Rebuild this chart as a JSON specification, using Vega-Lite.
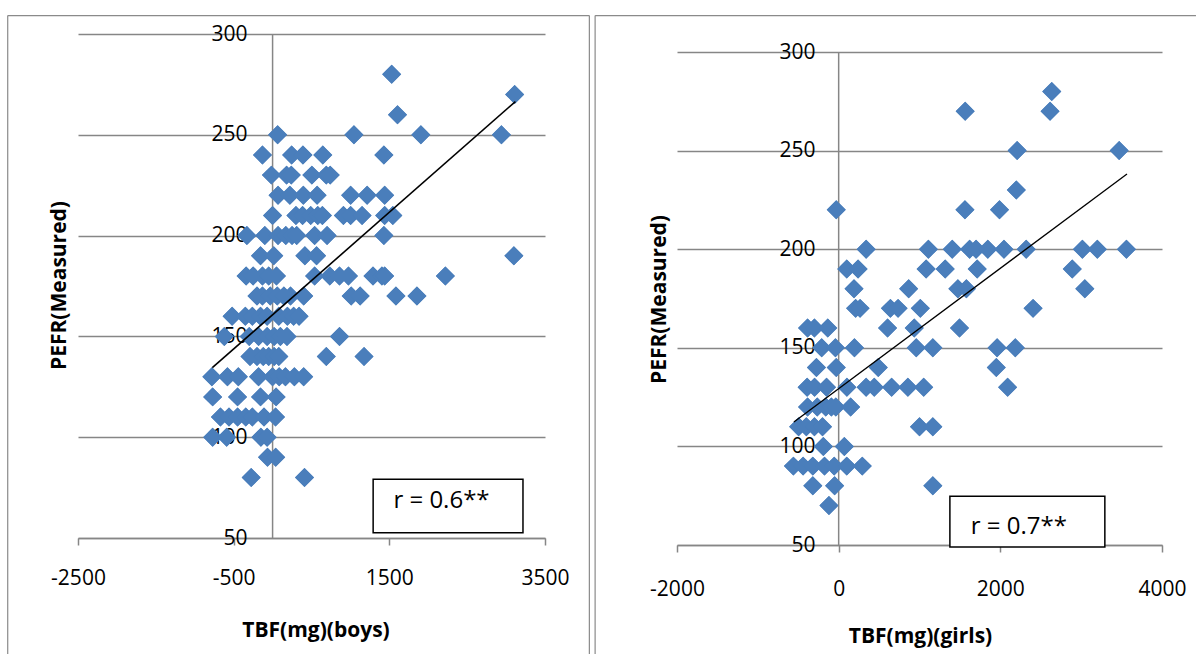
{
"$schema": "https://vega.github.io/schema/vega-lite/v6.json",
"background": "white",
"padding": {"left": 7, "top": 14, "right": 0, "bottom": 0},
"autosize": {"type": "pad"},
"bounds": "flush",
"spacing": 132,
"config": {"view": {"stroke": null}, "font": "Open Sans"},
"datasets": {
"boys": [
{"tbf":1530,"pefr":280},{"tbf":3110,"pefr":270},{"tbf":1605,"pefr":260},
{"tbf":65,"pefr":250},{"tbf":1045,"pefr":250},{"tbf":1905,"pefr":250},{"tbf":2940,"pefr":250},
{"tbf":-130,"pefr":240},{"tbf":245,"pefr":240},{"tbf":390,"pefr":240},{"tbf":645,"pefr":240},{"tbf":1430,"pefr":240},
{"tbf":-15,"pefr":230},{"tbf":180,"pefr":230},{"tbf":240,"pefr":230},{"tbf":505,"pefr":230},{"tbf":690,"pefr":230},{"tbf":740,"pefr":230},
{"tbf":70,"pefr":220},{"tbf":222,"pefr":220},{"tbf":395,"pefr":220},{"tbf":572,"pefr":220},{"tbf":1003,"pefr":220},{"tbf":1215,"pefr":220},{"tbf":1440,"pefr":220},
{"tbf":0,"pefr":210},{"tbf":300,"pefr":210},{"tbf":385,"pefr":210},{"tbf":490,"pefr":210},{"tbf":580,"pefr":210},{"tbf":640,"pefr":210},{"tbf":910,"pefr":210},{"tbf":1003,"pefr":210},{"tbf":1150,"pefr":210},{"tbf":1440,"pefr":210},{"tbf":1545,"pefr":210},
{"tbf":-330,"pefr":200},{"tbf":-100,"pefr":200},{"tbf":70,"pefr":200},{"tbf":170,"pefr":200},{"tbf":250,"pefr":200},{"tbf":310,"pefr":200},{"tbf":540,"pefr":200},{"tbf":700,"pefr":200},{"tbf":1430,"pefr":200},
{"tbf":-155,"pefr":190},{"tbf":15,"pefr":190},{"tbf":415,"pefr":190},{"tbf":565,"pefr":190},{"tbf":3100,"pefr":190},
{"tbf":-340,"pefr":180},{"tbf":-250,"pefr":180},{"tbf":-130,"pefr":180},{"tbf":-50,"pefr":180},{"tbf":50,"pefr":180},{"tbf":540,"pefr":180},{"tbf":735,"pefr":180},{"tbf":860,"pefr":180},{"tbf":975,"pefr":180},{"tbf":1290,"pefr":180},{"tbf":1405,"pefr":180},{"tbf":1440,"pefr":180},{"tbf":2220,"pefr":180},
{"tbf":-200,"pefr":170},{"tbf":-130,"pefr":170},{"tbf":-30,"pefr":170},{"tbf":60,"pefr":170},{"tbf":145,"pefr":170},{"tbf":230,"pefr":170},{"tbf":400,"pefr":170},{"tbf":1010,"pefr":170},{"tbf":1125,"pefr":170},{"tbf":1585,"pefr":170},{"tbf":1855,"pefr":170},
{"tbf":-520,"pefr":160},{"tbf":-350,"pefr":160},{"tbf":-260,"pefr":160},{"tbf":-155,"pefr":160},{"tbf":-70,"pefr":160},{"tbf":80,"pefr":160},{"tbf":190,"pefr":160},{"tbf":270,"pefr":160},{"tbf":340,"pefr":160},
{"tbf":-620,"pefr":150},{"tbf":-300,"pefr":150},{"tbf":-180,"pefr":150},{"tbf":-70,"pefr":150},{"tbf":20,"pefr":150},{"tbf":100,"pefr":150},{"tbf":185,"pefr":150},{"tbf":860,"pefr":150},
{"tbf":-290,"pefr":140},{"tbf":-200,"pefr":140},{"tbf":-120,"pefr":140},{"tbf":-50,"pefr":140},{"tbf":20,"pefr":140},{"tbf":80,"pefr":140},{"tbf":690,"pefr":140},{"tbf":1175,"pefr":140},
{"tbf":-780,"pefr":130},{"tbf":-580,"pefr":130},{"tbf":-440,"pefr":130},{"tbf":-180,"pefr":130},{"tbf":0,"pefr":130},{"tbf":85,"pefr":130},{"tbf":165,"pefr":130},{"tbf":280,"pefr":130},{"tbf":400,"pefr":130},
{"tbf":-770,"pefr":120},{"tbf":-450,"pefr":120},{"tbf":-155,"pefr":120},{"tbf":45,"pefr":120},
{"tbf":-670,"pefr":110},{"tbf":-560,"pefr":110},{"tbf":-450,"pefr":110},{"tbf":-345,"pefr":110},{"tbf":-260,"pefr":110},{"tbf":-110,"pefr":110},{"tbf":38,"pefr":110},
{"tbf":-770,"pefr":100},{"tbf":-590,"pefr":100},{"tbf":-150,"pefr":100},{"tbf":-70,"pefr":100},
{"tbf":-65,"pefr":90},{"tbf":40,"pefr":90},
{"tbf":-275,"pefr":80},{"tbf":410,"pefr":80}
],
"girls": [
{"tbf":2636,"pefr":280},
{"tbf":1565,"pefr":270},{"tbf":2615,"pefr":270},
{"tbf":2208,"pefr":250},{"tbf":3470,"pefr":250},
{"tbf":2198,"pefr":230},
{"tbf":-30,"pefr":220},{"tbf":1562,"pefr":220},{"tbf":1990,"pefr":220},
{"tbf":340,"pefr":200},{"tbf":1110,"pefr":200},{"tbf":1405,"pefr":200},{"tbf":1620,"pefr":200},{"tbf":1700,"pefr":200},{"tbf":1845,"pefr":200},{"tbf":2045,"pefr":200},{"tbf":2320,"pefr":200},{"tbf":3015,"pefr":200},{"tbf":3200,"pefr":200},{"tbf":3560,"pefr":200},
{"tbf":100,"pefr":190},{"tbf":240,"pefr":190},{"tbf":1082,"pefr":190},{"tbf":1318,"pefr":190},{"tbf":1714,"pefr":190},{"tbf":2890,"pefr":190},
{"tbf":190,"pefr":180},{"tbf":866,"pefr":180},{"tbf":1475,"pefr":180},{"tbf":1580,"pefr":180},{"tbf":3045,"pefr":180},
{"tbf":210,"pefr":170},{"tbf":265,"pefr":170},{"tbf":640,"pefr":170},{"tbf":735,"pefr":170},{"tbf":1010,"pefr":170},{"tbf":2405,"pefr":170},
{"tbf":-385,"pefr":160},{"tbf":-300,"pefr":160},{"tbf":-135,"pefr":160},{"tbf":605,"pefr":160},{"tbf":935,"pefr":160},{"tbf":1495,"pefr":160},
{"tbf":-210,"pefr":150},{"tbf":-40,"pefr":150},{"tbf":195,"pefr":150},{"tbf":960,"pefr":150},{"tbf":1165,"pefr":150},{"tbf":1960,"pefr":150},{"tbf":2185,"pefr":150},
{"tbf":-275,"pefr":140},{"tbf":-30,"pefr":140},{"tbf":490,"pefr":140},{"tbf":1950,"pefr":140},
{"tbf":-390,"pefr":130},{"tbf":-298,"pefr":130},{"tbf":-150,"pefr":130},{"tbf":102,"pefr":130},{"tbf":340,"pefr":130},{"tbf":440,"pefr":130},{"tbf":655,"pefr":130},{"tbf":856,"pefr":130},{"tbf":1052,"pefr":130},{"tbf":2090,"pefr":130},
{"tbf":-385,"pefr":120},{"tbf":-265,"pefr":120},{"tbf":-160,"pefr":120},{"tbf":-90,"pefr":120},{"tbf":-35,"pefr":120},{"tbf":148,"pefr":120},
{"tbf":-495,"pefr":110},{"tbf":-400,"pefr":110},{"tbf":-300,"pefr":110},{"tbf":-200,"pefr":110},{"tbf":1000,"pefr":110},{"tbf":1165,"pefr":110},
{"tbf":-190,"pefr":100},{"tbf":70,"pefr":100},
{"tbf":-560,"pefr":90},{"tbf":-440,"pefr":90},{"tbf":-320,"pefr":90},{"tbf":-175,"pefr":90},{"tbf":-55,"pefr":90},{"tbf":100,"pefr":90},{"tbf":292,"pefr":90},
{"tbf":-320,"pefr":80},{"tbf":-50,"pefr":80},{"tbf":1165,"pefr":80},
{"tbf":-120,"pefr":70}
],
"boysTrend": [{"tbf":-774,"pefr":134.5},{"tbf":3120,"pefr":266.5}],
"girlsTrend": [{"tbf":-554,"pefr":112.4},{"tbf":3567,"pefr":238.1}]
},
"hconcat": [
{
"width": 467, "height": 504,
"layer": [
{
"data": {"name": "boys"},
"mark": {"type": "point", "shape": "diamond", "filled": true, "size": 360, "color": "#4a7ebb", "opacity": 1},
"encoding": {
"x": {"field": "tbf", "type": "quantitative", "scale": {"domain": [-2500, 3500], "nice": false, "zero": false},
 "axis": {"title": "TBF(mg)(boys)", "values": [-2500, -500, 1500, 3500], "labelExpr": "datum.value + ''", "grid": false,
  "domainColor": "#868686", "domainWidth": 1.5, "tickColor": "#868686", "tickWidth": 1.5, "tickSize": 7,
  "labelPadding": 39.5, "labelBaseline": "alphabetic", "labelFlush": false, "labelOverlap": false, "labelFontSize": 21, "labelFont": "Open Sans", "labelColor": "black",
  "titleFont": "Open Sans", "titleFontSize": 21, "titleFontWeight": "bold", "titleColor": "black",
  "titleX": 237.5, "titleY": 98, "titleBaseline": "alphabetic", "titleAlign": "center"}},
"y": {"field": "pefr", "type": "quantitative", "scale": {"domain": [50, 300], "nice": false, "zero": false},
 "axis": {"title": "PEFR(Measured)", "values": [50, 100, 150, 200, 250, 300], "grid": true, "gridColor": "#868686", "gridWidth": 1.5,
  "domain": false, "ticks": false, "tickSize": 0, "labelAlign": "right", "labelBaseline": "middle", "labelPadding": -169, "labelOverlap": false,
  "labelFontSize": 21, "labelFont": "Open Sans", "labelColor": "black",
  "titleFont": "Open Sans", "titleFontSize": 21, "titleFontWeight": "bold", "titleColor": "black",
  "titleX": -12.3, "titleY": 251, "titleBaseline": "alphabetic", "titleAngle": -90, "titleAlign": "center"}}
}
},
{
"data": {"values": [{}]},
"mark": {"type": "rule", "color": "#8a8a8a", "strokeWidth": 1.2},
"encoding": {"x": {"datum": -3403, "type": "quantitative"}, "y": {"datum": -7.5, "type": "quantitative"}, "y2": {"datum": 309.13}}
},
{
"data": {"values": [{}]},
"mark": {"type": "rule", "color": "#8a8a8a", "strokeWidth": 1.2},
"encoding": {"x": {"datum": 4070, "type": "quantitative"}, "y": {"datum": -7.5, "type": "quantitative"}, "y2": {"datum": 309.13}}
},
{
"data": {"values": [{}]},
"mark": {"type": "rule", "color": "#8a8a8a", "strokeWidth": 1.2},
"encoding": {"y": {"datum": 309.13, "type": "quantitative"}, "x": {"datum": -3403, "type": "quantitative"}, "x2": {"datum": 4070}}
},
{
"data": {"values": [{}]},
"mark": {"type": "rule", "color": "#868686", "strokeWidth": 1.5},
"encoding": {"x": {"datum": 0, "type": "quantitative"}, "y": {"datum": 50, "type": "quantitative"}, "y2": {"datum": 300}}
},
{
"data": {"name": "boys"},
"mark": {"type": "point", "shape": "diamond", "filled": true, "size": 360, "color": "#4a7ebb", "opacity": 1},
"encoding": {"x": {"field": "tbf", "type": "quantitative"}, "y": {"field": "pefr", "type": "quantitative"}}
},
{
"data": {"name": "boysTrend"},
"mark": {"type": "line", "color": "black", "strokeWidth": 1.6},
"encoding": {"x": {"field": "tbf", "type": "quantitative"}, "y": {"field": "pefr", "type": "quantitative"}}
},
{
"data": {"values": [{}]},
"mark": {"type": "rect", "fill": "white", "stroke": "black", "strokeWidth": 1.5},
"encoding": {"x": {"datum": 1292, "type": "quantitative"}, "x2": {"datum": 3217}, "y": {"datum": 52.6, "type": "quantitative"}, "y2": {"datum": 79.1}}
},
{
"data": {"values": [{}]},
"mark": {"type": "text", "text": "r = 0.6**", "align": "left", "baseline": "alphabetic", "fontSize": 24, "font": "Open Sans", "color": "black"},
"encoding": {"x": {"datum": 1552, "type": "quantitative"}, "y": {"datum": 64.9, "type": "quantitative"}}
}
]
},
{
"width": 485, "height": 511,
"layer": [
{
"data": {"name": "girls"},
"mark": {"type": "point", "shape": "diamond", "filled": true, "size": 360, "color": "#4a7ebb", "opacity": 1},
"encoding": {
"x": {"field": "tbf", "type": "quantitative", "scale": {"domain": [-2000, 4000], "nice": false, "zero": false},
 "axis": {"title": "TBF(mg)(girls)", "values": [-2000, 0, 2000, 4000], "labelExpr": "datum.value + ''", "grid": false,
  "domainColor": "#868686", "domainWidth": 1.5, "tickColor": "#868686", "tickWidth": 1.5, "tickSize": 7,
  "labelPadding": 43, "labelBaseline": "alphabetic", "labelFlush": false, "labelOverlap": false, "labelFontSize": 21, "labelFont": "Open Sans", "labelColor": "black",
  "titleFont": "Open Sans", "titleFontSize": 21, "titleFontWeight": "bold", "titleColor": "black",
  "titleX": 243, "titleY": 97, "titleBaseline": "alphabetic", "titleAlign": "center"}},
"y": {"field": "pefr", "type": "quantitative", "scale": {"domain": [50, 309.13], "nice": false, "zero": false},
 "axis": {"title": "PEFR(Measured)", "values": [50, 100, 150, 200, 250, 300], "grid": true, "gridColor": "#868686", "gridWidth": 1.5,
  "domain": false, "ticks": false, "tickSize": 0, "labelAlign": "right", "labelBaseline": "middle", "labelPadding": -138, "labelOverlap": false,
  "labelFontSize": 21, "labelFont": "Open Sans", "labelColor": "black",
  "titleFont": "Open Sans", "titleFontSize": 21, "titleFontWeight": "bold", "titleColor": "black",
  "titleX": -11.8, "titleY": 265, "titleBaseline": "alphabetic", "titleAngle": -90, "titleAlign": "center"}}
}
},
{
"data": {"values": [{}]},
"mark": {"type": "rule", "color": "#8a8a8a", "strokeWidth": 1.2},
"encoding": {"x": {"datum": -3013, "type": "quantitative"}, "y": {"datum": -5.3, "type": "quantitative"}, "y2": {"datum": 318.46}}
},
{
"data": {"values": [{}]},
"mark": {"type": "rule", "color": "#8a8a8a", "strokeWidth": 1.2},
"encoding": {"y": {"datum": 318.46, "type": "quantitative"}, "x": {"datum": -3013, "type": "quantitative"}, "x2": {"datum": 4420}}
},
{
"data": {"values": [{}]},
"mark": {"type": "rule", "color": "#868686", "strokeWidth": 1.5},
"encoding": {"x": {"datum": 0, "type": "quantitative"}, "y": {"datum": 50, "type": "quantitative"}, "y2": {"datum": 300}}
},
{
"data": {"name": "girls"},
"mark": {"type": "point", "shape": "diamond", "filled": true, "size": 360, "color": "#4a7ebb", "opacity": 1},
"encoding": {"x": {"field": "tbf", "type": "quantitative"}, "y": {"field": "pefr", "type": "quantitative"}}
},
{
"data": {"name": "girlsTrend"},
"mark": {"type": "line", "color": "black", "strokeWidth": 1.3},
"encoding": {"x": {"field": "tbf", "type": "quantitative"}, "y": {"field": "pefr", "type": "quantitative"}}
},
{
"data": {"values": [{}]},
"mark": {"type": "rect", "fill": "white", "stroke": "black", "strokeWidth": 1.5},
"encoding": {"x": {"datum": 1376, "type": "quantitative"}, "x2": {"datum": 3293}, "y": {"datum": 49, "type": "quantitative"}, "y2": {"datum": 74.7}}
},
{
"data": {"values": [{}]},
"mark": {"type": "text", "text": "r = 0.7**", "align": "left", "baseline": "alphabetic", "fontSize": 24, "font": "Open Sans", "color": "black"},
"encoding": {"x": {"datum": 1635, "type": "quantitative"}, "y": {"datum": 55.7, "type": "quantitative"}}
}
]
}
]
}
